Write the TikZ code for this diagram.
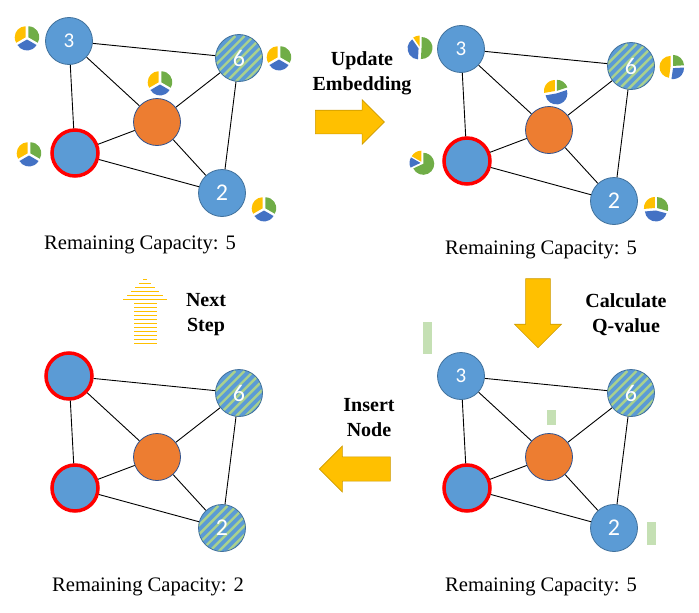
\documentclass[tikz,border=0pt]{standalone}
\usepackage{fontspec}
\setmainfont{Liberation Serif}
\newfontfamily\numfont{Carlito}
\usepackage{xcolor}
\usetikzlibrary{positioning}
\usetikzlibrary{shapes.arrows}
\definecolor{nodeblue}{HTML}{5B9BD5}
\definecolor{nodeedge}{HTML}{41719C}
\definecolor{nodeorange}{HTML}{ED7D31}
\definecolor{orangeedge}{HTML}{2F528F}
\definecolor{stripegreen}{HTML}{A9D18E}
\definecolor{piegold}{HTML}{FFC000}
\definecolor{pieblue}{HTML}{4472C4}
\definecolor{piegreen}{HTML}{70AD47}
\definecolor{qbar}{HTML}{C5E0B4}
\tikzset{
  graph node/.style = {circle,inner sep=0pt,minimum size=47pt,text=white,numfont},
  numfont/.style = {font=\numfont\fontsize{24}{24}\selectfont},
  blue node/.style = {graph node,draw=nodeedge,fill=nodeblue,line width=.8pt},
  red node/.style = {graph node,draw=red,fill=nodeblue,line width=3.5pt,minimum size=46pt},
  stripe node/.style = {graph node,draw=nodeedge,fill=nodeblue,line width=.8pt,
    path picture={\foreach \o in {-46,-36.8,...,46}
      \draw[stripegreen,line width=2.4pt,shift={(path picture bounding box.center)}]
        (\o-30,-30) -- (\o+30,30);}},
  center node/.style = {graph node,draw=orangeedge,fill=nodeorange,line width=.8pt},
  step arrow/.style = {single arrow,draw=piegold!80!black,fill=piegold,inner sep=11.5pt,
    single arrow head extend=10.5pt,line width=.6pt},
  cap text/.style = {font=\fontsize{20.6}{21}\selectfont},
  step text/.style = {align=center,font=\fontsize{20}{25}\selectfont\bfseries},
  edge/.style = {black,line width=.9pt}
}
% one slice of a small pie
\newcommand{\pieslice}[4]{
  \pgfmathsetmacro{\slicemid}{(#2+#3)/2}
  \fill[#4,shift={(\slicemid:1.5)}] (#1) -- ++(#2:11) arc (#2:#3:11) -- cycle;
}
\newcommand{\minipie}[3]{
  \pieslice{#1}{90}{#2}{piegold}
  \pieslice{#1}{#2}{#3}{pieblue}
  \pieslice{#1}{#3}{450}{piegreen}
}
\begin{document}
\begin{tikzpicture}[x=1pt,y=1pt]
  \useasboundingbox (0,0) rectangle (699,-613);
  % the four graphs
  \foreach \g/\dx/\dy/\topstyle/\topnum/\lowstyle in
    {a/0/0/blue node/3/blue node,
     b/392/-8/blue node/3/blue node,
     c/392/-335/blue node/3/blue node,
     d/0/-335/red node//stripe node} {
    \begin{scope}[shift={(\dx,\dy)}]
      \node[\topstyle] (t\g) at (69,-41) {\fontsize{21}{21}\selectfont\topnum};
      \node[stripe node] (r\g) at (239,-58) {6};
      \node[center node] (m\g) at (157,-122) {};
      \node[red node] (l\g) at (75,-153) {};
      \node[\lowstyle] (s\g) at (222,-193) {2};
      \foreach \u/\v in {t/r,t/m,t/l,r/m,r/s,m/l,m/s,l/s}
        \draw[edge] (\u\g) -- (\v\g);
    \end{scope}
  }
  % pies of the first graph
  \minipie{27,-38}{210}{330}
  \minipie{160,-83}{210}{330}
  \minipie{279,-58}{210}{330}
  \minipie{29,-154}{210}{330}
  \minipie{264,-209}{210}{330}
  % pies of the second graph
  \minipie{420,-48}{125}{267}
  \minipie{556,-92}{190}{378}
  \minipie{672,-67}{262}{363}
  \minipie{422,-163}{150}{205}
  \minipie{656,-209}{185}{345}
  % bars of the third graph
  \fill[qbar] (423,-322) rectangle (432,-354);
  \fill[qbar] (547,-410) rectangle (556,-425);
  \fill[qbar] (647,-522) rectangle (656,-545);
  % arrows
  \node[step arrow,minimum height=69pt,minimum width=44pt] (updatearrow) at (344,-122) {};
  \node[step arrow,minimum height=69pt,minimum width=47pt,shape border rotate=270] (calcarrow) at (538,-307) {};
  \node[step arrow,minimum height=71pt,minimum width=46pt,shape border rotate=180] (insertarrow) at (361,-469) {};
  \foreach \k in {0,...,5}
    \draw[piegold,line width=.9pt] ({145-1.7-4*\k},{-279.3-4*\k}) -- ({145+1.7+4*\k},{-279.3-4*\k});
  \foreach \k in {6,...,16}
    \draw[piegold,line width=.9pt] (134,{-279.3-4*\k}) -- (156.7,{-279.3-4*\k});
  % texts
  \node[cap text] (capa) at (140,-244.5) {Remaining Capacity: 5};
  \node[cap text] (capb) at (541,-249.5) {Remaining Capacity: 5};
  \node[cap text] (capc) at (541,-586.5) {Remaining Capacity: 5};
  \node[cap text] (capd) at (148,-586.5) {Remaining Capacity: 2};
  \node[step text] (updatetext) at (362,-73) {Update\\Embedding};
  \node[step text] (calctext) at (626,-315) {Calculate\\Q-value};
  \node[step text] (inserttext) at (369,-418) {Insert\\Node};
  \node[step text] (nexttext) at (206,-315) {Next\\Step};
\end{tikzpicture}
\end{document}
